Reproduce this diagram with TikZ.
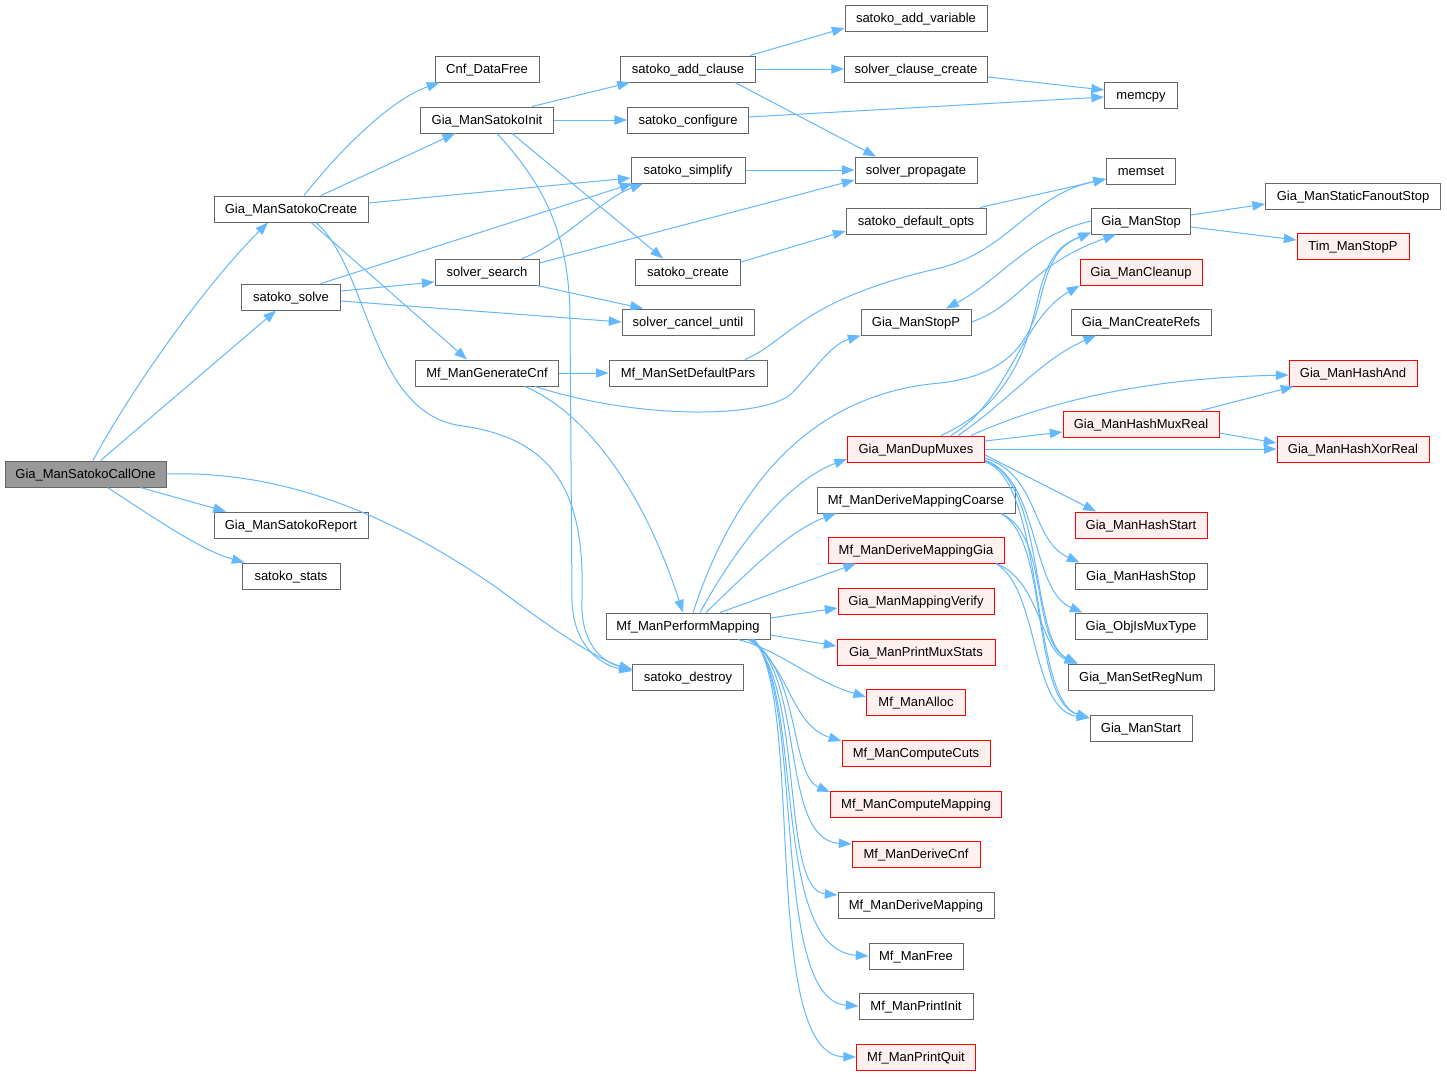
\documentclass[tikz,border=0pt]{standalone}
\usepackage{fontspec}
\setmainfont{Liberation Sans}
\usetikzlibrary{arrows.meta,calc}
\definecolor{edgeblue}{HTML}{63B8FF}
\definecolor{boxgray}{HTML}{666666}
\definecolor{rootfill}{HTML}{999999}
\definecolor{redfill}{HTML}{FFF0F0}
\tikzset{
  box/.style={draw=boxgray, fill=white, line width=0.75pt, minimum height=19.5pt, inner sep=0pt,
    text height=7pt, text depth=0pt,
    font=\fontsize{9.75}{11}\selectfont, text=black},
  redbox/.style={box, draw=red, fill=redfill},
  rootbox/.style={box, fill=rootfill},
  w/.style={minimum width=#1*0.75pt},
  e/.style={draw=edgeblue, line width=0.75pt, -{Triangle[length=9.5pt,width=7pt]}}
}
\begin{document}
\begin{tikzpicture}[x=0.75pt,y=-0.75pt]
\useasboundingbox[fill=white] (0,0) rectangle (1447,1076);
% nodes
\node[rootbox,w=161] (cone) at (85.5,474) {Gia\_ManSatokoCallOne};
\node[box,w=154] (create) at (291,209) {Gia\_ManSatokoCreate};
\node[box,w=99] (solve) at (291,297) {satoko\_solve};
\node[box,w=154] (report) at (291,525) {Gia\_ManSatokoReport};
\node[box,w=98] (stats) at (291,576) {satoko\_stats};
\node[box,w=104] (cnffree) at (487,69) {Cnf\_DataFree};
\node[box,w=133] (init) at (487,120) {Gia\_ManSatokoInit};
\node[box,w=104] (search) at (487,272) {solver\_search};
\node[box,w=143] (gencnf) at (487,373) {Mf\_ManGenerateCnf};
\node[box,w=135] (addcl) at (688,69) {satoko\_add\_clause};
\node[box,w=121] (config) at (688,120) {satoko\_configure};
\node[box,w=114] (simp) at (688,170) {satoko\_simplify};
\node[box,w=105] (screate) at (688,272) {satoko\_create};
\node[box,w=132] (cancel) at (688,322) {solver\_cancel\_until};
\node[box,w=158] (setdef) at (688,373) {Mf\_ManSetDefaultPars};
\node[box,w=164] (perf) at (688,626) {Mf\_ManPerformMapping};
\node[box,w=111] (destroy) at (688,677) {satoko\_destroy};
\node[box,w=142] (addvar) at (916,18) {satoko\_add\_variable};
\node[box,w=143] (clcreate) at (916,69) {solver\_clause\_create};
\node[box,w=122] (prop) at (916,170) {solver\_propagate};
\node[box,w=140] (defopts) at (916,221) {satoko\_default\_opts};
\node[box,w=110] (stopp) at (916,322) {Gia\_ManStopP};
\node[redbox,w=137] (dupmux) at (916,449) {Gia\_ManDupMuxes};
\node[box,w=198] (coarse) at (916,500) {Mf\_ManDeriveMappingCoarse};
\node[redbox,w=176] (dgia) at (916,550) {Mf\_ManDeriveMappingGia};
\node[redbox,w=156] (verify) at (916,601) {Gia\_ManMappingVerify};
\node[redbox,w=158] (muxstats) at (916,652) {Gia\_ManPrintMuxStats};
\node[redbox,w=99] (alloc) at (916,702) {Mf\_ManAlloc};
\node[redbox,w=148] (cuts) at (916,753) {Mf\_ManComputeCuts};
\node[redbox,w=171] (cmap) at (916,804) {Mf\_ManComputeMapping};
\node[redbox,w=128] (dcnf) at (916,854) {Mf\_ManDeriveCnf};
\node[box,w=156] (dmap) at (916,905) {Mf\_ManDeriveMapping};
\node[box,w=94] (mfree) at (916,956) {Mf\_ManFree};
\node[box,w=114] (pinit) at (916,1006) {Mf\_ManPrintInit};
\node[redbox,w=119] (pquit) at (916,1057) {Mf\_ManPrintQuit};
\node[box,w=73] (memcpy) at (1141,95) {memcpy};
\node[box,w=69] (memset) at (1141,171) {memset};
\node[box,w=99] (gstop) at (1141,221) {Gia\_ManStop};
\node[redbox,w=122] (cleanup) at (1141,272) {Gia\_ManCleanup};
\node[box,w=140] (refs) at (1141,322) {Gia\_ManCreateRefs};
\node[redbox,w=156] (hmux) at (1141,424) {Gia\_ManHashMuxReal};
\node[redbox,w=132] (hstart) at (1141,525) {Gia\_ManHashStart};
\node[box,w=132] (hstop) at (1141,576) {Gia\_ManHashStop};
\node[box,w=132] (ismux) at (1141,626) {Gia\_ObjIsMuxType};
\node[box,w=146] (setreg) at (1141,677) {Gia\_ManSetRegNum};
\node[box,w=102] (gstart) at (1141,728) {Gia\_ManStart};
\node[box,w=175] (sfanout) at (1353,196) {Gia\_ManStaticFanoutStop};
\node[redbox,w=112] (timstop) at (1353,246) {Tim\_ManStopP};
\node[redbox,w=128] (hand) at (1353,373) {Gia\_ManHashAnd};
\node[redbox,w=152] (hxor) at (1353,449) {Gia\_ManHashXorReal};
% edges from root
\draw[e] ($(cone.north)+(7.5,0)$) .. controls (125,400) and (200,290) .. ($(create.south)+(-23,0)$);
\draw[e] ($(cone.north)+(15,0)$) -- ($(solve.south)+(-15,0)$);
\draw[e] ($(cone.south)+(55,0)$) -- ($(report.north)+(-65,0)$);
\draw[e] ($(cone.south)+(22,0)$) .. controls (150,515) and (200,550) .. ($(stats.north west)+(3,0)$);
\draw[e] (cone.east) .. controls (290,470) and (400,520) .. (500,590) .. controls (560,635) and (600,660) .. ($(destroy.west)+(0,-7)$);
% Gia_ManSatokoCreate
\draw[e] ($(create.north)+(13,0)$) .. controls (340,150) and (390,100) .. ($(cnffree.south west)+(5,0)$);
\draw[e] ($(create.north)+(30,0)$) -- ($(init.south)+(-32,0)$);
\draw[e] ($(create.east)+(0,-6)$) -- ($(simp.west)+(0,8)$);
\draw[e] ($(create.south)+(20,0)$) -- ($(gencnf.north)+(-20,0)$);
\draw[e] ($(create.south)+(25,0)$) .. controls (370,270) and (370,415) .. (463,426) .. controls (560,440) and (585,500) .. (582,600) .. controls (580,640) and (600,662) .. ($(destroy.west)+(0,-8)$);
% Gia_ManSatokoInit
\draw[e] ($(init.south)+(10,0)$) .. controls (540,180) and (570,230) .. (570,320) -- (572,600) .. controls (573,645) and (600,665) .. ($(destroy.west)+(0,-6)$);
\draw[e] ($(init.north)+(45,0)$) -- ($(addcl.south west)+(10,0)$);
\draw[e] (init.east) -- (config.west);
\draw[e] ($(init.south)+(25,0)$) -- ($(screate.north)+(-25,0)$);
% satoko_solve
\draw[e] ($(solve.north)+(30,0)$) -- ($(simp.south west)+(2,0)$);
\draw[e] ($(solve.east)+(0,-6)$) -- ($(search.west)+(0,10)$);
\draw[e] ($(solve.east)+(0,4)$) -- (cancel.west);
% solver_search
\draw[e] ($(search.north)+(35,0)$) .. controls (560,245) and (600,200) .. ($(simp.south)+(-45,0)$);
\draw[e] ($(search.east)+(0,-9)$) -- ($(prop.west)+(0,10)$);
\draw[e] ($(search.south)+(50,0)$) -- ($(cancel.north)+(-45,0)$);
% Mf_ManGenerateCnf
\draw[e] (gencnf.east) -- (setdef.west);
\draw[e] ($(gencnf.south)+(38,0)$) .. controls (580,410) and (640,480) .. ($(perf.north)+(-5,0)$);
\draw[e] ($(gencnf.south)+(48,0)$) .. controls (640,420) and (760,418) .. (790,395) .. controls (815,370) and (830,345) .. (stopp.south west);
% satoko_add_clause etc
\draw[e] ($(addcl.north)+(62,0)$) -- ($(addvar.west)+(0,10)$);
\draw[e] (addcl.east) -- (clcreate.west);
\draw[e] ($(addcl.south)+(47,0)$) -- ($(prop.north)+(-40,0)$);
\draw[e] ($(config.east)+(0,-3)$) -- ($(memcpy.west)+(0,2)$);
\draw[e] (simp.east) -- (prop.west);
\draw[e] ($(screate.east)+(0,-10)$) -- ($(defopts.west)+(0,10)$);
\draw[e] ($(setdef.north)+(57,0)$) .. controls (790,340) and (800,300) .. (940,268) .. controls (1010,250) and (1030,195) .. ($(memset.west)+(0,8)$);
\draw[e] ($(clcreate.east)+(0,8)$) -- ($(memcpy.west)+(0,-5)$);
\draw[e] ($(defopts.north)+(64,0)$) -- ($(memset.west)+(0,8)$);
% Mf_ManPerformMapping
\draw[e] ($(perf.north)+(5,0)$) .. controls (730,500) and (800,395) .. (940,383) .. controls (1010,375) and (1030,340) .. (1040,300) .. controls (1050,258) and (1060,245) .. ($(gstop.south west)+(0,-2)$);
\draw[e] ($(perf.north)+(12,0)$) .. controls (740,540) and (790,480) .. ($(dupmux.west)+(0,10)$);
\draw[e] ($(perf.north)+(18,0)$) .. controls (750,570) and (790,530) .. ($(coarse.south)+(-80,0)$);
\draw[e] ($(perf.north)+(32,0)$) -- ($(dgia.south)+(-60,0)$);
\draw[e] ($(perf.east)+(0,-8)$) -- ($(verify.west)+(0,7)$);
\draw[e] ($(perf.east)+(0,9)$) -- ($(muxstats.west)+(0,-6)$);
\draw[e] ($(perf.south)+(50,0)$) .. controls (780,650) and (810,680) .. ($(alloc.west)+(0,-5)$);
\draw[e] ($(perf.south)+(60,0)$) .. controls (790,665) and (790,725) .. ($(cuts.west)+(0,-12)$);
\draw[e] ($(perf.south)+(62,0)$) .. controls (800,670) and (790,775) .. ($(cmap.west)+(0,-12)$);
\draw[e] ($(perf.south)+(64,0)$) .. controls (805,680) and (780,840) .. ($(dcnf.west)+(0,-10)$);
\draw[e] ($(perf.south)+(64,0)$) .. controls (805,690) and (780,890) .. ($(dmap.west)+(0,-10)$);
\draw[e] ($(perf.south)+(66,0)$) .. controls (805,700) and (770,950) .. (mfree.west);
\draw[e] ($(perf.south)+(66,0)$) .. controls (805,700) and (770,1000) .. (pinit.west);
\draw[e] ($(perf.south)+(66,0)$) .. controls (805,700) and (760,1055) .. (pquit.west);
% Gia_ManDupMuxes
\draw[e] ($(dupmux.north)+(25,0)$) .. controls (1020,400) and (1030,330) .. (1040,290) .. controls (1050,255) and (1060,245) .. ($(gstop.south west)+(0,-2)$);
\draw[e] ($(dupmux.north)+(35,0)$) .. controls (1010,400) and (1020,320) .. (cleanup.south west);
\draw[e] ($(dupmux.north)+(42,0)$) .. controls (1010,400) and (1040,360) .. ($(refs.south)+(-45,0)$);
\draw[e] ($(dupmux.north)+(55,0)$) .. controls (1050,400) and (1150,378) .. ($(hand.west)+(0,2)$);
\draw[e] ($(dupmux.east)+(0,-8)$) -- ($(hmux.west)+(0,8)$);
\draw[e] (dupmux.east) -- (hxor.west);
\draw[e] ($(dupmux.east)+(0,6)$) -- ($(hstart.north)+(-45,0)$);
\draw[e] ($(dupmux.east)+(0,9)$) .. controls (1040,475) and (1030,540) .. ($(hstop.north west)+(5,0)$);
\draw[e] ($(dupmux.east)+(0,11)$) .. controls (1040,480) and (1030,590) .. ($(ismux.north west)+(8,0)$);
\draw[e] ($(dupmux.east)+(0,12)$) .. controls (1045,480) and (1030,640) .. ($(setreg.north west)+(10,0)$);
\draw[e] ($(dupmux.east)+(0,13)$) .. controls (1045,480) and (1030,700) .. ($(gstart.west)+(0,-10)$);
% coarse / dgia
\draw[e] ($(coarse.south)+(85,0)$) .. controls (1050,535) and (1030,640) .. ($(setreg.north west)+(10,0)$);
\draw[e] ($(coarse.south)+(85,0)$) .. controls (1050,540) and (1030,700) .. ($(gstart.west)+(0,-10)$);
\draw[e] ($(dgia.south)+(80,0)$) .. controls (1040,580) and (1040,650) .. ($(setreg.north west)+(10,0)$);
\draw[e] ($(dgia.south)+(80,0)$) .. controls (1040,590) and (1030,710) .. ($(gstart.west)+(0,-10)$);
% hash
\draw[e] ($(hmux.north)+(60,0)$) -- ($(hand.south west)+(5,0)$);
\draw[e] ($(hmux.east)+(0,9)$) -- ($(hxor.west)+(0,-6)$);
% Gia_ManStop
\draw[e] ($(gstop.east)+(0,-6)$) -- ($(sfanout.west)+(0,8)$);
\draw[e] ($(gstop.east)+(0,6)$) -- ($(timstop.west)+(0,-6)$);
\draw[e] (gstop.west) .. controls (1030,235) and (1000,280) .. ($(stopp.north)+(30,0)$);
\draw[e] (stopp.east) .. controls (1020,305) and (1030,265) .. ($(gstop.south)+(-25,0)$);
\end{tikzpicture}
\end{document}
